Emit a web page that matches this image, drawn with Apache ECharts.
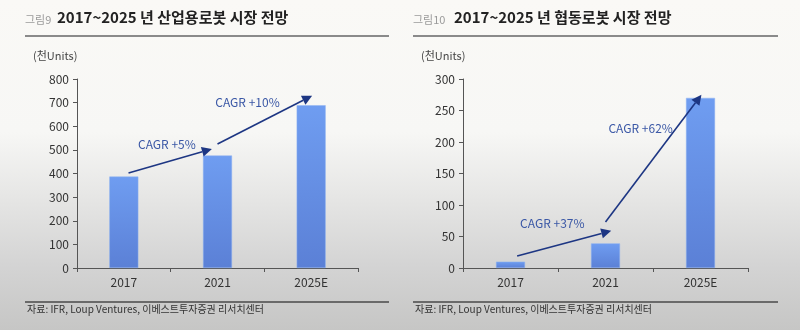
<!DOCTYPE html>
<html>
<head>
<meta charset="utf-8">
<script src="https://cdn.jsdelivr.net/npm/echarts@6/dist/echarts.min.js"></script>
<style>
  html, body { margin: 0; padding: 0; }
  body {
    width: 800px; height: 330px;
    background: linear-gradient(180deg, #faf9f6 0%, #f7f7f5 40%, #e4e4e3 62%, #d4d4d4 80%, #c6c6c5 100%);
  }
  #chart { width: 800px; height: 330px; }
</style>
</head>
<body>
<div id="chart"></div>
<script>
// Data
const categories = ["2017", "2021", "2025E"];
const industrialValues = [387, 476, 689];
const cobotValues = [10, 39, 270];
const industrialTicks = [0, 800, 100];
const cobotTicks = [0, 300, 50];

// CAGR annotations: [fromIndex, fromValue, toIndex, toValue, label, labelIndex, labelValue]
const industrialCagr = [
  [0.05, 402, 0.94, 504, "CAGR +5%", 0.46, 525],
  [1.0, 525, 2.01, 729, "CAGR +10%", 1.32, 699],
];
const cobotCagr = [
  [0.07, 19, 1.06, 59, "CAGR +37%", 0.44, 70],
  [1.0, 73, 2.01, 275, "CAGR +62%", 1.37, 221],
];

const font = '"Noto Sans CJK KR", "Noto Sans", sans-serif';
const arrowColor = "#1d3683";
const labelColor = "#3b58a6";

const barColor = new echarts.graphic.LinearGradient(0, 0, 0, 1, [
  { offset: 0, color: "#6f9df1" },
  { offset: 1, color: "#5b80d6" },
]);

function makeAxes(gridIndex, ticks) {
  const xAxis = {
    type: "category",
    gridIndex: gridIndex,
    data: categories,
    axisLine: { lineStyle: { color: "#555", width: 1 } },
    axisTick: { show: true, length: 4, lineStyle: { color: "#555" } },
    axisLabel: { color: "#333", fontSize: 12, fontFamily: font, margin: 8 },
  };
  const yAxis = {
    type: "value",
    gridIndex: gridIndex,
    min: ticks[0],
    max: ticks[1],
    interval: ticks[2],
    axisLine: { show: true, lineStyle: { color: "#555", width: 1 } },
    axisTick: { show: true, length: 4, lineStyle: { color: "#555" } },
    splitLine: { show: false },
    axisLabel: { color: "#333", fontSize: 12, fontFamily: font, margin: 8 },
  };
  return [xAxis, yAxis];
}

function makeBars(idx, values) {
  return {
    type: "bar",
    xAxisIndex: idx,
    yAxisIndex: idx,
    data: values,
    barWidth: 29,
    z: 2,
    itemStyle: { color: barColor, borderColor: "#8fb3f0", borderWidth: 0.5 },
  };
}

// fractional category position -> pixel, using the axis scale of neighbouring categories
function catPoint(api, idx, val) {
  const i0 = Math.max(0, Math.min(Math.floor(idx), categories.length - 2));
  const a = api.coord([i0, val]);
  const b = api.coord([i0 + 1, val]);
  const f = idx - i0;
  return [a[0] + f * (b[0] - a[0]), a[1]];
}

function makeCagr(idx, cagr) {
  return {
    type: "custom",
    xAxisIndex: idx,
    yAxisIndex: idx,
    silent: true,
    clip: false,
    z: 10,
    data: cagr.map((c) => [Math.round(c[0]), c[1]]),
    renderItem: function (params, api) {
      const c = cagr[params.dataIndex];
      const p0 = catPoint(api, c[0], c[1]);
      const p1 = catPoint(api, c[2], c[3]);
      const pl = catPoint(api, c[5], c[6]);
      const dx = p1[0] - p0[0];
      const dy = p1[1] - p0[1];
      const len = Math.sqrt(dx * dx + dy * dy);
      const ux = dx / len, uy = dy / len;
      const hl = 10, hw = 5;
      const base = [p1[0] - ux * hl, p1[1] - uy * hl];
      return {
        type: "group",
        children: [
          {
            type: "line",
            shape: { x1: p0[0], y1: p0[1], x2: base[0], y2: base[1] },
            style: { stroke: arrowColor, lineWidth: 1.6 },
          },
          {
            type: "polygon",
            shape: {
              points: [
                p1,
                [base[0] - uy * hw, base[1] + ux * hw],
                [base[0] + uy * hw, base[1] - ux * hw],
              ],
            },
            style: { fill: arrowColor },
          },
          {
            type: "text",
            x: pl[0],
            y: pl[1],
            style: {
              text: c[4],
              fill: labelColor,
              font: "12px " + font,
              align: "center",
              verticalAlign: "middle",
            },
          },
        ],
      };
    },
  };
}

function panelGraphics(x0, x1, fig, title) {
  return [
    {
      type: "text", left: x0, top: 14,
      style: { text: fig, fill: "#9a9a9a", font: "11px " + font },
    },
    {
      type: "text", left: x0 + (fig.length > 3 ? 41 : 32), top: 10,
      style: { text: title, fill: "#222", font: "bold 15px " + font },
    },
    {
      type: "line",
      shape: { x1: x0, y1: 36, x2: x1, y2: 36 },
      style: { stroke: "#8a8a8a", lineWidth: 2 },
    },
    {
      type: "text", left: x0 + 8, top: 50,
      style: { text: "(천Units)", fill: "#444", font: "11px " + font },
    },
    {
      type: "line",
      shape: { x1: x0, y1: 302, x2: x1, y2: 302 },
      style: { stroke: "#6a6a6a", lineWidth: 2 },
    },
    {
      type: "text", left: x0 + 2, top: 304,
      style: {
        text: "자료: IFR, Loup Ventures, 이베스트투자증권 리서치센터",
        fill: "#333",
        font: "10px " + font,
      },
    },
  ];
}

const chart = echarts.init(document.getElementById("chart"));
const [xa0, ya0] = makeAxes(0, industrialTicks);
const [xa1, ya1] = makeAxes(1, cobotTicks);

chart.setOption({
  backgroundColor: "transparent",
  animation: false,
  textStyle: { fontFamily: font },
  grid: [
    { left: 77, right: 442, top: 79, bottom: 62 },
    { left: 463, right: 52, top: 79, bottom: 62 },
  ],
  xAxis: [xa0, xa1],
  yAxis: [ya0, ya1],
  series: [
    makeBars(0, industrialValues),
    makeBars(1, cobotValues),
    makeCagr(0, industrialCagr),
    makeCagr(1, cobotCagr),
  ],
  graphic: [
    ...panelGraphics(25, 389, "그림9", "2017~2025 년 산업용로봇 시장 전망"),
    ...panelGraphics(413, 778, "그림10", "2017~2025 년 협동로봇 시장 전망"),
  ],
});
</script>
</body>
</html>
